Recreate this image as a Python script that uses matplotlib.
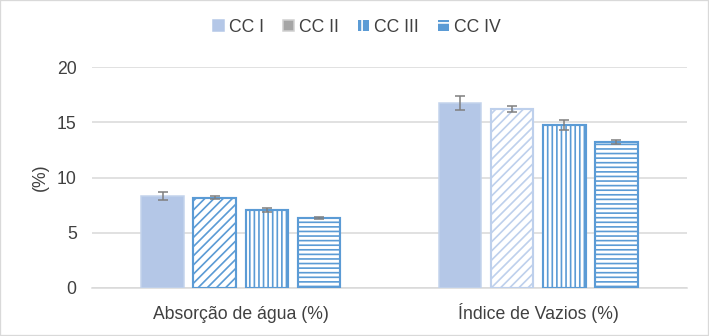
import matplotlib
matplotlib.use("Agg")
import matplotlib.pyplot as plt
from matplotlib.patches import Patch, Rectangle
import numpy as np

categories = ["Absorção de água (%)", "Índice de Vazios (%)"]
series = ["CC I", "CC II", "CC III", "CC IV"]
values = {
    "CC I":   [8.33, 16.75],
    "CC II":  [8.17, 16.20],
    "CC III": [7.06, 14.75],
    "CC IV":  [6.33, 13.21],
}
errors = {
    "CC I":   [0.39, 0.62],
    "CC II":  [0.12, 0.23],
    "CC III": [0.21, 0.47],
    "CC IV":  [0.09, 0.20],
}
y_ticks = [0, 5, 10, 15, 20]

DPI = 110
W, H = 709, 336
plt.rcParams["font.family"] = ["Liberation Sans", "DejaVu Sans"]
plt.rcParams["hatch.linewidth"] = 1.1

BLUE = "#5B9BD5"
LIGHT = "#B4C7E7"
TEXT = "#404040"
GRID = "#D9D9D9"

fig = plt.figure(figsize=(W / DPI, H / DPI), dpi=DPI)
fig.patches.append(Rectangle((0, 0), 1, 1, transform=fig.transFigure,
                             fill=False, edgecolor=GRID, linewidth=1.5))

ax = fig.add_axes([92 / W, 48 / H, (687 - 92) / W, (288 - 67) / H])

styles = {
    "CC I":   dict(facecolor=LIGHT, edgecolor=["#C3D3EC", "#C3D3EC"], hatch=None),
    "CC II":  dict(facecolor="white", edgecolor=[BLUE, "#BED0EC"], hatch="////"),
    "CC III": dict(facecolor="white", edgecolor=[BLUE, BLUE], hatch="||||"),
    "CC IV":  dict(facecolor="white", edgecolor=[BLUE, BLUE], hatch="----"),
}

x = np.arange(len(categories))
step = 0.175
width = 0.143
for i, s in enumerate(series):
    off = (i - 1.5) * step
    st = styles[s]
    for j in range(len(categories)):
        ax.bar(x[j] + off, values[s][j], width=width,
               facecolor=st["facecolor"], edgecolor=st["edgecolor"][j],
               hatch=st["hatch"], linewidth=1.4 if st["hatch"] else 1.0,
               zorder=3)
    ax.errorbar(x + off, values[s], yerr=errors[s], fmt="none",
                ecolor="#7F7F7F", elinewidth=1.0, capsize=3.0,
                capthick=1.0, zorder=4)

ax.set_xlim(-0.5, 1.5)
ax.set_ylim(0, 20)
ax.set_yticks(y_ticks)
ax.set_xticks(x)
ax.set_xticklabels(categories, va="baseline")
ax.tick_params(axis="both", length=0, labelsize=11.5, colors=TEXT)
ax.tick_params(axis="x", pad=20)
ax.tick_params(axis="y", pad=10)
ax.grid(axis="y", color=GRID, linewidth=1.0, zorder=0)
for side in ["top", "right", "left"]:
    ax.spines[side].set_visible(False)
ax.spines["bottom"].set_color(GRID)
ax.spines["bottom"].set_linewidth(1.0)
ax.set_ylabel("(%)", fontsize=11.5, color=TEXT, labelpad=5)

handles = [
    Patch(facecolor=LIGHT, edgecolor=LIGHT, label="CC I"),
    Patch(facecolor="#A5A5A5", edgecolor="#D0D0D0", label="CC II"),
    Patch(facecolor=BLUE, edgecolor="white", hatch="||", linewidth=0, label="CC III"),
    Patch(facecolor=BLUE, edgecolor="white", hatch="--", linewidth=0, label="CC IV"),
]
fig.legend(handles=handles, loc="center", bbox_to_anchor=(357 / W, 1 - 27 / H),
           ncol=4, frameon=False, fontsize=11.5, labelcolor=TEXT,
           handlelength=0.6, handleheight=0.6, handletextpad=0.3,
           columnspacing=1.1)

fig.savefig("out.png", dpi=DPI)
